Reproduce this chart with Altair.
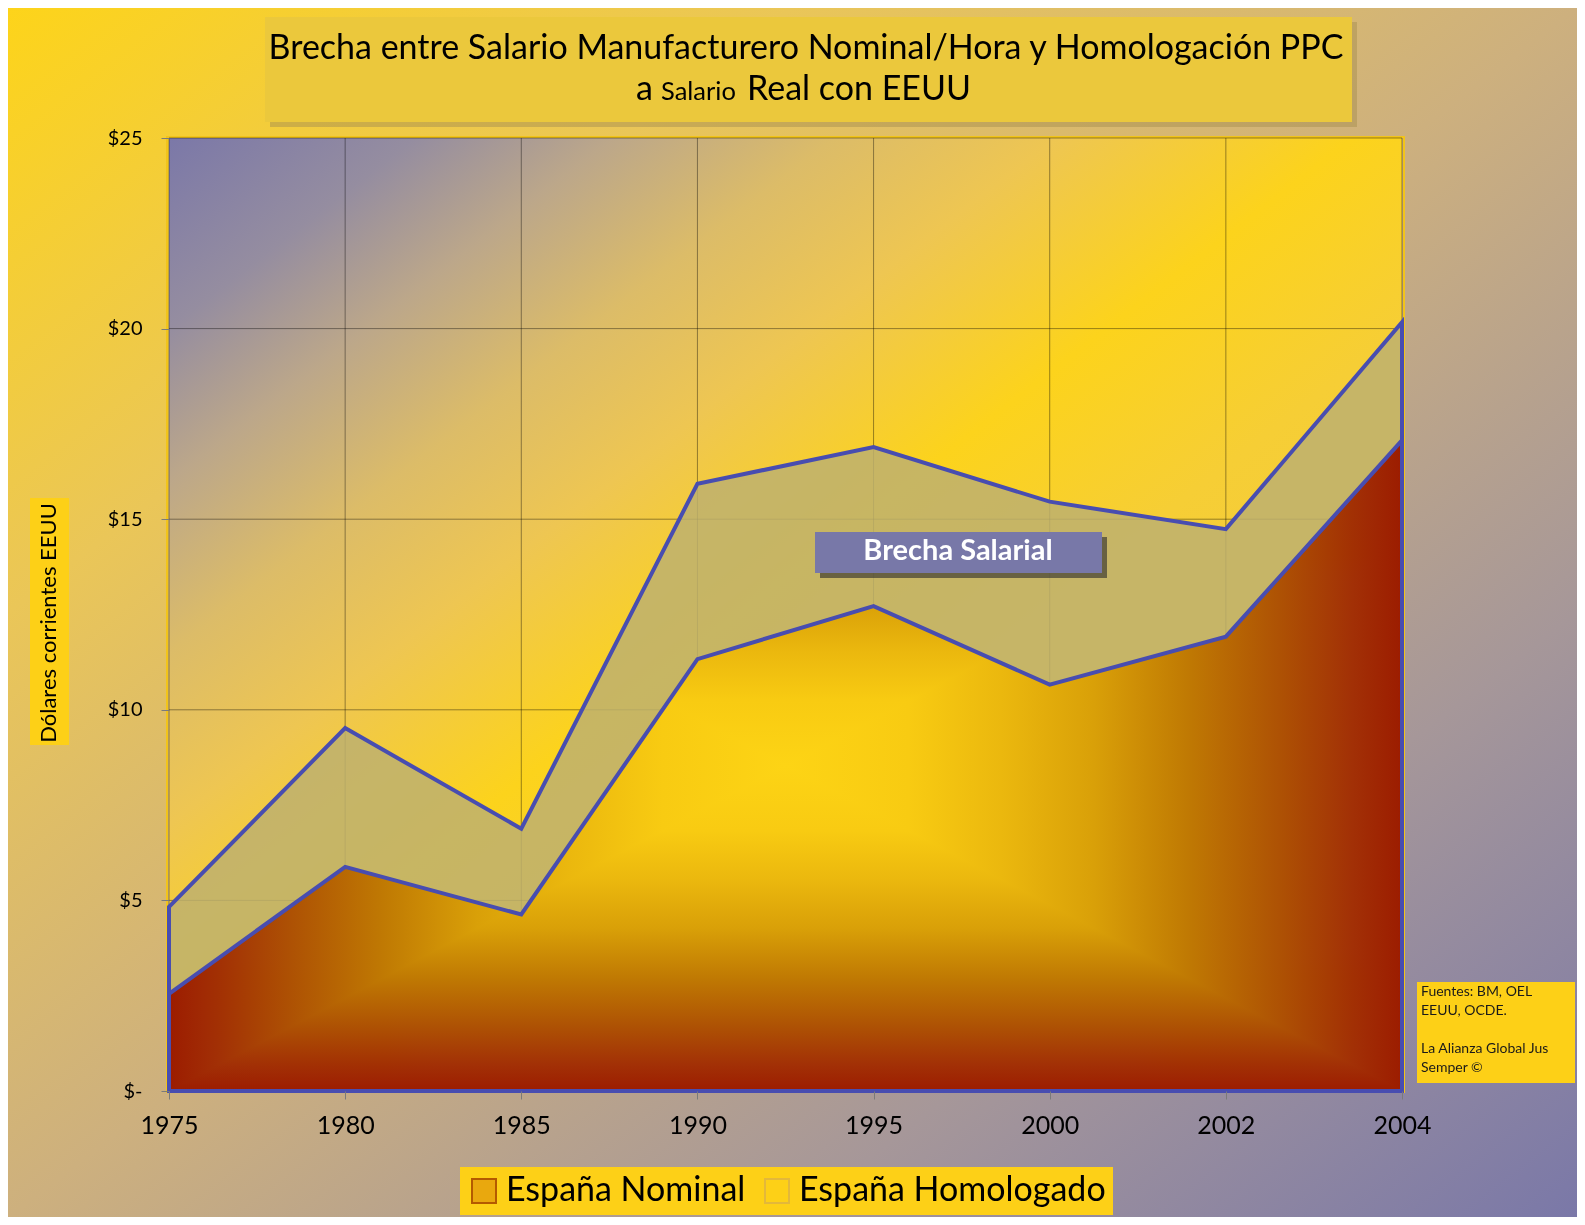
import altair as alt
import pandas as pd

# ---------------- data ----------------
years = ["1975", "1980", "1985", "1990", "1995", "2000", "2002", "2004"]
nominal = [2.55, 5.88, 4.63, 11.33, 12.72, 10.66, 11.92, 17.07]
homologado = [4.83, 9.52, 6.88, 15.93, 16.89, 15.46, 14.74, 20.17]
y_ticks = [0, 5, 10, 15, 20, 25]
series = ["España Nominal", "España Homologado"]

title_line1 = "Brecha entre Salario Manufacturero Nominal/Hora y Homologación PPC"
title_line2 = ["a", "Salario", "Real con EEUU"]
y_title = "Dólares corrientes EEUU"
gap_label = "Brecha Salarial"
source_lines_1 = ["Fuentes: BM, OEL", "EEUU, OCDE."]
source_lines_2 = ["La Alianza Global Jus", "Semper ©"]

# ---------------- style ----------------
W, H = 1233, 953
PAD = {"left": 161, "top": 130, "right": 175, "bottom": 126}
FONT = "Lato"
BLUE = "#484DB0"
GAP = "#BDB070"
YEL = "#FDD017"

def lin(stops, x2=1, y2=1):
    return {"gradient": "linear", "x1": 0, "y1": 0, "x2": x2, "y2": y2,
            "stops": [{"offset": o, "color": c} for o, c in stops]}

grad_outer = lin([(0, "#FDD41A"), (0.25, "#EAC658"), (0.5, "#CDB07E"),
                  (0.75, "#A69799"), (1, "#7A78A8")])
grad_plot = lin([(0, "#7B78A8"), (0.1, "#958DA0"), (0.18, "#BCA78A"),
                 (0.27, "#DCBC68"), (0.36, "#EEC652"), (0.48, "#FCD31C"),
                 (0.6, "#F6CE35"), (1, "#EEC650")])

ramp = [(0, "#FDD415"), (0.2, "#F8CB12"), (0.35, "#EBB80E"), (0.5, "#D9A008"),
        (0.65, "#C07A03"), (0.8, "#AE5204"), (0.92, "#A23006"), (1, "#9C1C00")]
sym = [((1 - t) / 2, c) for t, c in reversed(ramp)] + [((1 + t) / 2, c) for t, c in ramp[1:]]
grad_h = lin(sym, x2=1, y2=0)
grad_v = lin(sym, x2=0, y2=1)

df = pd.DataFrame({"year": years, "nominal": nominal, "homologado": homologado})
one = alt.Data(values=[{"k": 1}])

xscale = alt.Scale(type="point", padding=0, domain=years)
yscale = alt.Scale(domain=[0, 25], nice=False, zero=True)
xaxis = alt.Axis(title=None, grid=False, domain=False, labelAngle=0, labelFont=FONT,
                 labelFontSize=25, labelColor="#000000", labelPadding=14,
                 tickColor="#7a7a7a", tickSize=8, tickWidth=1, zindex=1)
yaxis = alt.Axis(title=None, grid=False, domain=False, values=y_ticks,
                 labelExpr="datum.value == 0 ? '$-' : '$' + datum.value",
                 labelFont=FONT, labelFontSize=20, labelColor="#000000", labelPadding=19,
                 tickColor="#7a7a7a", tickSize=8, tickWidth=1, zindex=1)


def X():
    return alt.X("year:O", scale=xscale, axis=xaxis, sort=years)


def Y(f):
    return alt.Y(f, type="quantitative", scale=yscale, axis=yaxis)


def box(x, x2, y, y2, **kw):
    return alt.Chart(one).mark_rect(**kw).encode(
        x=alt.value(x), x2=alt.value(x2), y=alt.value(y), y2=alt.value(y2))


def label(txt, x, y, **kw):
    return alt.Chart(one).mark_text(text=txt, font=FONT, **kw).encode(
        x=alt.value(x), y=alt.value(y))


outer_bg = box(-PAD["left"], W + PAD["right"], -PAD["top"], H + PAD["bottom"], fill=grad_outer)
plot_bg = box(0, W, 0, H, fill=grad_plot)
border = box(-2, W + 2, -1, H + 1, filled=False, stroke="#F2C41A", strokeWidth=2)

vgrid = alt.Chart(df).mark_rule(color="#000000", opacity=0.4, strokeWidth=1).encode(x=X())
hgrid = alt.Chart(pd.DataFrame({"v": y_ticks})).mark_rule(
    color="#000000", opacity=0.4, strokeWidth=1).encode(y=Y("v"))

homol_area = alt.Chart(df).mark_area(
    fill=GAP, fillOpacity=0.85, stroke=BLUE, strokeWidth=4, strokeJoin="miter"
).encode(x=X(), y=Y("homologado"))
nom_a = alt.Chart(df).mark_area(fill=grad_h).encode(x=X(), y=Y("nominal"))
nom_b = alt.Chart(df).mark_area(fill=grad_v, blend="darken").encode(x=X(), y=Y("nominal"))
nom_line = alt.Chart(df).mark_area(
    fillOpacity=0, stroke=BLUE, strokeWidth=4, strokeJoin="miter"
).encode(x=X(), y=Y("nominal"))

# title block
title_shadow = box(101, 1188, -116, -11, fill="#A89050", opacity=0.5)
title_box = box(96, 1183, -121, -16, fill="#EBC83C")
t1 = label(title_line1, 637, -79, fontSize=34, align="center", baseline="alphabetic", color="#000000")
t2a = label(title_line2[0], 484, -38, fontSize=34, align="right", baseline="alphabetic", color="#000000")
t2b = label(title_line2[1], 492, -38, fontSize=25.5, align="left", baseline="alphabetic", color="#000000")
t2c = label(title_line2[2], 578, -38, fontSize=34, align="left", baseline="alphabetic", color="#000000")

# y title
ytitle_box = box(-139, -100, 360, 607, fill=YEL)
ytitle = label(y_title, -120, 485, fontSize=22, angle=270, align="center", baseline="middle", color="#000000")

# gap annotation
gap_shadow = box(651, 938, 399, 440, fill="#2a2a2a", opacity=0.6)
gap_box = box(646, 933, 394, 435, fill="#7878A8")
gap_text = label(gap_label, 789, 422, fontSize=29, fontWeight="bold", align="center",
                 baseline="alphabetic", color="#ffffff")

# sources
src_box = box(1248, 1406, 844, 945, fill=YEL)
src_text1 = label(source_lines_1, 1252, 858, fontSize=14, lineHeight=19, align="left",
                  baseline="alphabetic", color="#1a1a1a")
src_text2 = label(source_lines_2, 1252, 915, fontSize=14, lineHeight=19, align="left",
                  baseline="alphabetic", color="#1a1a1a")

# legend
leg_def = alt.Legend(title=None, orient="none", legendX=291, legendY=1029, direction="horizontal",
                     fillColor=YEL, padding=7, labelFont=FONT, labelFontSize=34,
                     labelColor="#000000", labelLimit=500, labelOffset=5, columnPadding=14,
                     symbolType="square", symbolSize=576, symbolStrokeWidth=2, symbolOpacity=1)
leg = alt.Chart(pd.DataFrame({"serie": series})).mark_point(
    shape="square", filled=True, opacity=0
).encode(
    x=alt.value(0), y=alt.value(0),
    fill=alt.Fill("serie:N", scale=alt.Scale(domain=series, range=["#E9A80E", YEL]), legend=leg_def),
    stroke=alt.Stroke("serie:N", scale=alt.Scale(domain=series, range=["#B45A00", "#E3B83A"]), legend=leg_def),
)

chart = alt.layer(
    outer_bg, plot_bg, border, vgrid, hgrid,
    homol_area, nom_a, nom_b, nom_line,
    title_shadow, title_box, t1, t2a, t2b, t2c,
    ytitle_box, ytitle,
    gap_shadow, gap_box, gap_text,
    src_box, src_text1, src_text2,
    leg,
).properties(
    width=W, height=H, padding=PAD,
    autosize=alt.AutoSizeParams(type="none"),
    background="#ffffff",
).configure_view(strokeWidth=0)

chart.save("out.html", embed_options={"renderer": "svg", "actions": False})
